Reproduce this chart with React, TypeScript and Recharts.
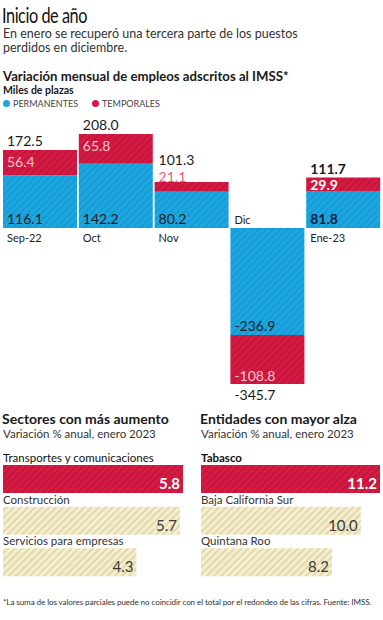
import React from 'react';
import { BarChart, Bar, XAxis, YAxis, LabelList, Cell } from 'recharts';

const months = ['Sep-22', 'Oct', 'Nov', 'Dic', 'Ene-23'];
const permanentes = [116.1, 142.2, 80.2, -236.9, 81.8];
const temporales = [56.4, 65.8, 21.1, -108.8, 29.9];
const totales = [172.5, 208.0, 101.3, -345.7, 111.7];

const sectores = ['Transportes y comunicaciones', 'Construcción', 'Servicios para empresas'];
const sectoresValores = [5.8, 5.7, 4.3];
const entidades = ['Tabasco', 'Baja California Sur', 'Quintana Roo'];
const entidadesValores = [11.2, 10.0, 8.2];

const monthlyData = months.map((name, i) => ({
  name,
  perm: permanentes[i],
  temp: temporales[i],
  total: totales[i],
}));
const sectorData = sectores.map((name, i) => ({ name, value: sectoresValores[i] }));
const entidadData = entidades.map((name, i) => ({ name, value: entidadesValores[i] }));

const FONT = "Lato, 'Open Sans', sans-serif";
const fmt = (v: number) => v.toFixed(1);

const getBox = (p: any) => {
  const v = p.viewBox && p.viewBox.width !== undefined ? p.viewBox : p;
  const x = Number(v.x);
  const y = Number(v.y);
  const w = Number(v.width);
  const h = Number(v.height);
  return { x, w, top: Math.min(y, y + h), bottom: Math.max(y, y + h) };
};

const PermLabel = (p: any) => {
  const i = p.index;
  const { x, top, bottom } = getBox(p);
  const v = permanentes[i];
  const last = i === months.length - 1;
  const catY = v >= 0 ? bottom + 10 : top - 8;
  return (
    <g>
      <text x={x + 4} y={bottom - 9} dominantBaseline="central" fontFamily={FONT} fontSize={14}
        fontWeight={last ? 700 : 400} fill={last ? '#0b1f3a' : '#1d1d1d'}>
        {fmt(v)}
      </text>
      <text x={x + 4} y={catY} dominantBaseline="central" fontFamily={FONT} fontSize={11} fill="#222">
        {months[i]}
      </text>
    </g>
  );
};

const TempLabel = (p: any) => {
  const i = p.index;
  const { x, top, bottom } = getBox(p);
  const v = temporales[i];
  const tot = totales[i];
  const last = i === months.length - 1;
  const h = bottom - top;
  let ty: number;
  let tfill: string;
  let totY: number;
  if (v < 0) {
    ty = bottom - 9;
    tfill = '#f7c6d1';
    totY = bottom + 10;
  } else if (h >= 12) {
    ty = top + Math.min(12, h / 2);
    tfill = last ? '#ffffff' : '#f7c6d1';
    totY = top - 9;
  } else {
    ty = top - 6;
    tfill = '#e5607d';
    totY = top - 23;
  }
  return (
    <g>
      <text x={x + 4} y={ty} dominantBaseline="central" fontFamily={FONT} fontSize={14}
        fontWeight={last ? 700 : 400} fill={tfill}>
        {fmt(v)}
      </text>
      <text x={x + 4} y={totY} dominantBaseline="central" fontFamily={FONT} fontSize={14}
        fontWeight={last ? 700 : 400} fill="#1a1a1a">
        {fmt(tot)}
      </text>
    </g>
  );
};

const makeHLabel = (names: string[], values: number[], boldFirst: boolean) => (p: any) => {
  const i = p.index;
  const { x, w, top, bottom } = getBox(p);
  const first = i === 0;
  return (
    <g>
      <text x={x} y={top - 3} fontFamily={FONT} fontSize={11.5}
        fontWeight={first && boldFirst ? 700 : 400} fill={first ? '#111' : '#333'}>
        {names[i]}
      </text>
      <text x={x + w - 3} y={bottom - 4} textAnchor="end" fontFamily={FONT} fontSize={15}
        fontWeight={first ? 700 : 400} fill={first ? '#ffffff' : '#3a3a3a'}>
        {fmt(values[i])}
      </text>
    </g>
  );
};

const Patterns = () => (
  <defs>
    <pattern id="stripeBlue" patternUnits="userSpaceOnUse" width="5" height="5" patternTransform="rotate(45)">
      <rect width="5" height="5" fill="#1ca7e1" />
      <line x1="1" y1="0" x2="1" y2="5" stroke="#1592cc" strokeWidth="1.2" />
    </pattern>
    <pattern id="stripeRed" patternUnits="userSpaceOnUse" width="5" height="5" patternTransform="rotate(45)">
      <rect width="5" height="5" fill="#d41b43" />
      <line x1="1" y1="0" x2="1" y2="5" stroke="#bb1135" strokeWidth="1.2" />
    </pattern>
    <pattern id="stripeBeige" patternUnits="userSpaceOnUse" width="5" height="5" patternTransform="rotate(45)">
      <rect width="5" height="5" fill="#f5efcf" />
      <line x1="1" y1="0" x2="1" y2="5" stroke="#d9cc98" strokeWidth="1.3" />
    </pattern>
  </defs>
);

const HChart = ({ data, names, values, max, boldFirst, left, width }: any) => (
  <div style={{ position: 'absolute', left, top: 446 }}>
    <BarChart width={width} height={137} data={data} layout="vertical"
      margin={{ top: 12, right: 0, bottom: 0, left: 0 }} barSize={28}>
      <Patterns />
      <XAxis type="number" hide domain={[0, max]} />
      <YAxis type="category" dataKey="name" hide />
      <Bar dataKey="value" isAnimationActive={false}>
        {data.map((_: any, i: number) => (
          <Cell key={i} fill={i === 0 ? 'url(#stripeRed)' : 'url(#stripeBeige)'} />
        ))}
        <LabelList dataKey="value" content={makeHLabel(names, values, boldFirst)} />
      </Bar>
    </BarChart>
  </div>
);

const txt = (top: number, left: number, size: number, extra: any = {}) => ({
  position: 'absolute' as const,
  top,
  left,
  fontSize: size,
  lineHeight: `${size + 2}px`,
  fontFamily: FONT,
  color: '#222',
  whiteSpace: 'nowrap' as const,
  ...extra,
});

export default function App() {
  return (
    <div style={{ position: 'absolute', left: 0, top: 0, width: 383, height: 620, background: '#fff', overflow: 'hidden' }}>
      <div style={txt(3, 2, 22, { letterSpacing: -0.6, color: '#111', lineHeight: '24px', transform: 'scaleX(0.74)', transformOrigin: 'left center' })}>
        Inicio de año
      </div>
      <div style={txt(27, 3, 12.5, { color: '#333', lineHeight: '14px' })}>
        En enero se recuperó una tercera parte de los puestos
      </div>
      <div style={txt(41, 3, 12.5, { color: '#333', lineHeight: '14px' })}>perdidos en diciembre.</div>
      <div style={txt(68, 3, 13.2, { fontWeight: 700, color: '#1a1a1a', lineHeight: '16px' })}>
        Variación mensual de empleos adscritos al IMSS*
      </div>
      <div style={txt(84, 3, 10.5, { fontWeight: 700, color: '#1a1a1a', lineHeight: '12px' })}>Miles de plazas</div>
      <div style={txt(98, 3, 9, { color: '#444', display: 'flex', alignItems: 'center', lineHeight: '11px' })}>
        <span style={{ display: 'inline-block', width: 7, height: 7, borderRadius: 4, background: '#1ca7e1', marginRight: 3 }} />
        <span>PERMANENTES</span>
        <span style={{ display: 'inline-block', width: 7, height: 7, borderRadius: 4, background: '#d41b43', marginLeft: 14, marginRight: 3 }} />
        <span>TEMPORALES</span>
      </div>

      <div style={{ position: 'absolute', left: 2, top: 110 }}>
        <BarChart width={379} height={296} data={monthlyData} stackOffset="sign"
          margin={{ top: 23, right: 0, bottom: 20, left: 0 }} barCategoryGap={1}>
          <Patterns />
          <XAxis dataKey="name" hide />
          <YAxis hide domain={[-350, 210]} />
          <Bar dataKey="perm" stackId="a" fill="url(#stripeBlue)" isAnimationActive={false}>
            <LabelList dataKey="perm" content={PermLabel} />
          </Bar>
          <Bar dataKey="temp" stackId="a" fill="url(#stripeRed)" isAnimationActive={false}>
            <LabelList dataKey="temp" content={TempLabel} />
          </Bar>
        </BarChart>
      </div>

      <div style={txt(411, 2, 14, { fontWeight: 700, color: '#1a1a1a', lineHeight: '16px' })}>Sectores con más aumento</div>
      <div style={txt(428, 3, 11.5, { color: '#333', lineHeight: '12px' })}>Variación % anual, enero 2023</div>
      <div style={txt(411, 200, 14, { fontWeight: 700, color: '#1a1a1a', lineHeight: '16px' })}>Entidades con mayor alza</div>
      <div style={txt(428, 201, 11.5, { color: '#333', lineHeight: '12px' })}>Variación % anual, enero 2023</div>

      <HChart data={sectorData} names={sectores} values={sectoresValores} max={5.8} boldFirst={false} left={3} width={180} />
      <HChart data={entidadData} names={entidades} values={entidadesValores} max={11.2} boldFirst={true} left={201} width={179} />

      <div style={txt(597, 3, 8.1, { color: '#333', letterSpacing: -0.1 })}>
        *La suma de los valores parciales puede no coincidir con el total por el redondeo de las cifras. Fuente: IMSS.
      </div>
    </div>
  );
}
